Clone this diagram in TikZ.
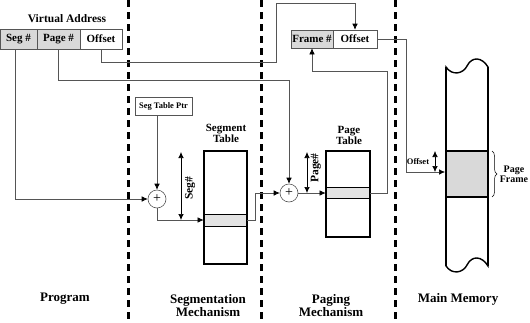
\documentclass[tikz,border=0pt]{standalone}
\usepackage{fontspec}
\setmainfont{Liberation Serif}
\usetikzlibrary{arrows.meta,decorations.pathreplacing,calc}

\definecolor{cellgray}{HTML}{D9D9D9}
\definecolor{rowgray}{HTML}{E3E3E3}
\definecolor{wire}{HTML}{555555}

\tikzset{
  fs/.style={font=\fontsize{#1}{#1}\selectfont\bfseries},
  cell/.style={draw=wire, line width=0.6pt, minimum height=#1, inner sep=0pt, fs=11},
  wirepath/.style={draw=wire, line width=0.6pt},
  tip/.style={-{Latex[length=6pt,width=5.5pt,color=black]}},
  dtip/.style={{Latex[length=6pt,width=5.5pt]}-{Latex[length=6pt,width=5.5pt]}, draw=black, line width=0.7pt},
  divider/.style={line width=3pt, dash pattern=on 7pt off 5pt},
  adder/.style={circle, draw=wire, line width=0.6pt, minimum size=18pt, inner sep=0pt, fill=white},
  table/.style={draw=black, line width=1.4pt, fill=white},
  tablerow/.style={draw=black, line width=0.8pt, fill=rowgray, inner sep=0pt},
  label/.style={fs=13, align=center}
}

\begin{document}
\begin{tikzpicture}[x=1pt, y=-1pt]
\useasboundingbox (0,0) rectangle (530,322);

% column dividers
\foreach \xx in {128,261,395}
  \draw[divider] (\xx,0) -- (\xx,322);

% ---- virtual address ----
\node[fs=11.5] (vatitle) at (67,19) {Virtual Address};
\node[cell=20pt, minimum width=37pt, fill=cellgray] (segn)  at (18.5,39) {Seg \#};
\node[cell=20pt, minimum width=43pt, fill=cellgray] (pagen) at (58.5,39) {Page \#};
\node[cell=20pt, minimum width=42pt, fill=white]    (voff)  at (101,39) {Offset};

% ---- physical address ----
\node[cell=18pt, minimum width=42pt, fill=cellgray] (frame) at (312,39) {Frame \#};
\node[cell=18pt, minimum width=44pt, fill=white]    (poff)  at (355,39) {Offset};

% ---- segmentation ----
\node[draw=wire, line width=0.6pt, minimum width=57pt, minimum height=18pt, inner sep=0pt, fs=8.5] (stp) at (163.5,106) {Seg Table Ptr};
\node[adder] (add1) at (157,199) {\fontsize{14}{14}\selectfont +};
\node[fs=11, align=center] (segtitle) at (226,133) {Segment\\Table};
\draw[table] (204,151) rectangle (247,264);
\node[tablerow, minimum width=43pt, minimum height=12pt] (srow) at (225.5,220) {};
\draw[table, fill=none] (204,151) rectangle (247,264);
\coordinate (segtop) at (181,152);
\coordinate (segbot) at (181,220);
\draw[dtip] (segtop) -- (segbot);
\node[fs=11.5, rotate=90] (seglbl) at (190,188) {Seg\#};

% ---- paging ----
\node[adder] (add2) at (289,193) {\fontsize{14}{14}\selectfont +};
\node[fs=11, align=center] (pagetitle) at (349,135) {Page\\Table};
\draw[table] (326,151) rectangle (370,237);
\node[tablerow, minimum width=44pt, minimum height=11pt] (prow) at (348,193) {};
\draw[table, fill=none] (326,151) rectangle (370,237);
\coordinate (pgtop) at (307,152);
\coordinate (pgbot) at (307,193);
\draw[dtip] (pgtop) -- (pgbot);
\node[fs=11.5, rotate=90] (pglbl) at (316,168) {Page\#};

% ---- main memory ----
\draw[line width=1.4pt, fill=white]
  (446,67) .. controls (452,76) and (463,74) .. (467,66)
           .. controls (472,56) and (482,57) .. (488,67)
  -- (488,266)
           .. controls (482,256) and (472,255) .. (467,265)
           .. controls (463,273) and (452,275) .. (446,266)
  -- cycle;
\draw[fill=cellgray, draw=none] (446,151) rectangle (488,197);
\draw[line width=1.4pt] (446,151) -- (488,151) (446,197) -- (488,197);
\draw[line width=1.4pt] (446,67) -- (446,266) (488,67) -- (488,266);
\coordinate (memin) at (445,172);
\coordinate (memtop) at (435,151);
\coordinate (membot) at (435,172);
\draw[dtip, line width=0.6pt] (memtop) -- (membot);
\node[fs=8.5] (memofflbl) at (418,162) {Offset};
\draw[decorate, decoration={brace, amplitude=5pt}, line width=0.5pt] (492,151) -- (492,197);
\node[fs=10, align=center] (pflbl) at (514,174) {Page\\Frame};

% ---- connectors ----
\coordinate (pturn) at (289,80);
\coordinate (o1) at (276,62);
\coordinate (o2) at (276,3);
\coordinate (sx) at (255,220);
\coordinate (pt) at (387,71);
\coordinate (m1) at (406,172);

\draw[wirepath, tip] ([xshift=-3.5pt]segn.south) |- (add1.west);
\draw[wirepath, tip] (pagen.south) |- (pturn) -- (add2.north);
\draw[wirepath, tip] (voff.south) |- (o1) -- (o2) -| (poff.north);
\draw[wirepath, tip] (stp.south -| add1) -- (add1.north);
\draw[wirepath, tip] (add1.south) |- (srow.west);
\draw[wirepath, tip] (srow.east) -- (sx) |- (add2.west);
\draw[wirepath, tip] (add2.east) -- (prow.west);
\draw[wirepath, tip] (prow.east) -| (pt) -| (frame.south);
\draw[wirepath, tip] (poff.east) -| (m1) -- (memin);

% ---- column captions ----
\node[label] (cprog) at (65,299) {Program};
\node[label] (cseg)  at (208,306) {Segmentation\\Mechanism};
\node[label] (cpag)  at (331,306) {Paging\\Mechanism};
\node[label] (cmem)  at (458,299) {Main Memory};
\end{tikzpicture}
\end{document}
